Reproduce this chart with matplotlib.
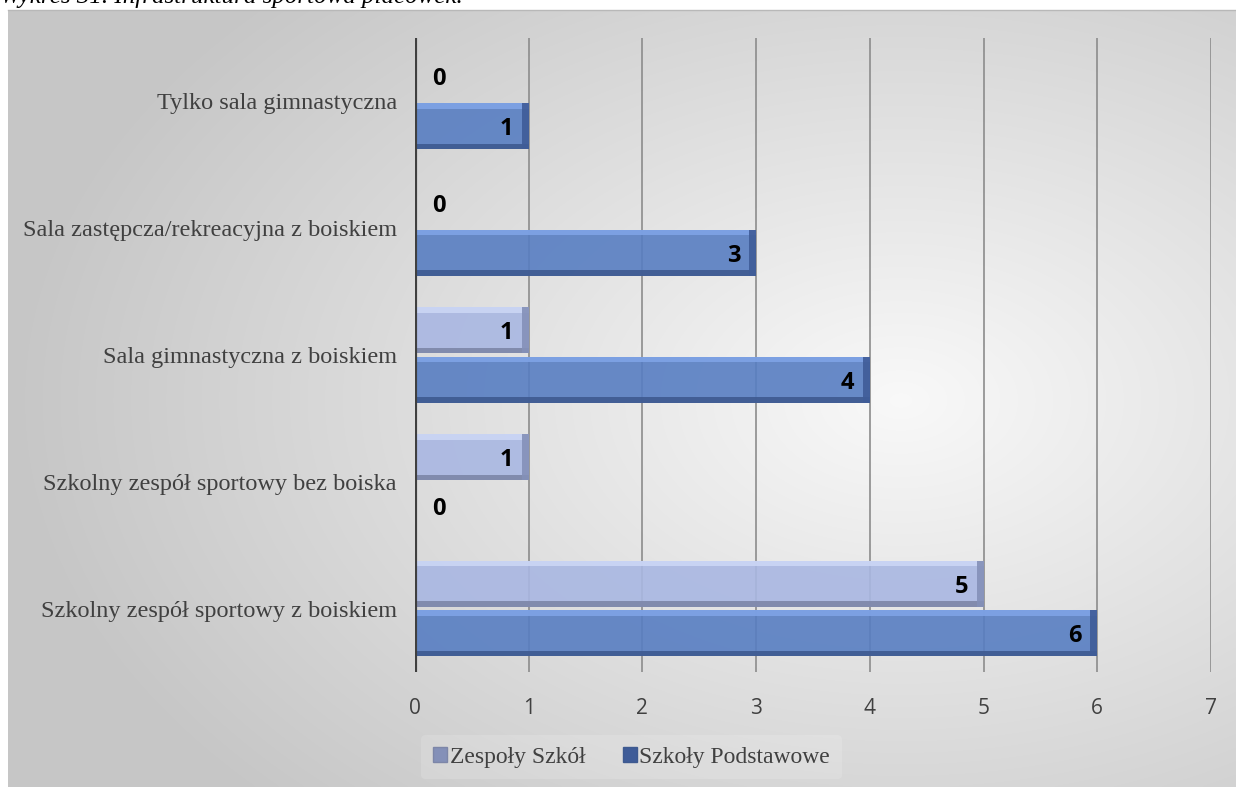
import numpy as np
import matplotlib
matplotlib.use("Agg")
import matplotlib.pyplot as plt
from matplotlib.patches import Patch

categories = ["Szkolny zespół sportowy z boiskiem",
              "Szkolny zespół sportowy bez boiska",
              "Sala gimnastyczna z boiskiem",
              "Sala zastępcza/rekreacyjna z boiskiem",
              "Tylko sala gimnastyczna"]
zespoly = [5, 1, 1, 0, 0]
podstawowe = [6, 0, 4, 3, 1]
series_names = ["Zespoły Szkół", "Szkoły Podstawowe"]
xticks = [0, 1, 2, 3, 4, 5, 6, 7]
title = "Wykres 31. Infrastruktura sportowa placówek."

W, H = 1236, 787
fig = plt.figure(figsize=(W / 100, H / 100), dpi=100)
fig.patch.set_facecolor("white")

# background gradient (chart area)
bg = fig.add_axes([8 / W, 0, 1 - 8 / W, 1 - 10 / H], zorder=-5)
yy, xx = np.mgrid[10:H:2, 8:W:2]
d = np.sqrt(((xx - 900) / 720.0) ** 2 + ((yy - 400) / 470.0) ** 2)
val = np.clip(0.975 - 0.16 * d, 0.78, 1)
bg.imshow(np.dstack([val, val, val]), aspect="auto", extent=[0, 1, 0, 1],
          interpolation="bilinear")
bg.set_axis_off()
fig.add_artist(plt.Line2D([8 / W, 1], [1 - 10 / H, 1 - 10 / H],
                          color="#b8b8b8", lw=1.0, transform=fig.transFigure))

fig.text(0.0, 1 - 3 / H, title, family="Liberation Serif", style="italic",
         fontsize=18, color="black", va="baseline", ha="left")

ax = fig.add_axes([415 / W, 1 - 672 / H, (1211 - 415) / W, (672 - 38) / H])
ax.set_facecolor("none")

y = np.arange(len(categories))
h = 0.365
off = 0.195
styles = [
    dict(main="#a9b7e2", hl="#cbd6f5", sh="#7d86a8", cap="#8490b8"),
    dict(main="#587ec2", hl="#7fa3e6", sh="#3e5a90", cap="#3f5c98"),
]
bv = 0.045
cw = 0.06
for vals, dy, st in [(zespoly, off, styles[0]), (podstawowe, -off, styles[1])]:
    vals = np.array(vals, dtype=float)
    yc = y + dy
    ax.barh(yc, vals, height=h, color=st["main"], alpha=0.9, zorder=3)
    ax.barh(yc + h / 2 - bv / 2, vals, height=bv, color=st["hl"], alpha=0.9, zorder=4)
    ax.barh(yc - h / 2 + bv / 2, vals, height=bv, color=st["sh"], alpha=0.9, zorder=4)
    capw = np.minimum(vals, cw)
    ax.barh(yc, capw, left=vals - capw, height=h, color=st["cap"], alpha=0.9, zorder=4)
    for v, yv in zip(vals, yc):
        if v > 0:
            xt, ha = (-11, "right")
        else:
            xt, ha = (12, "left")
        ax.annotate(f"{int(v)}", (v, yv), xytext=(xt, -2), textcoords="offset points",
                    ha=ha, va="center", fontsize=17, fontweight="bold",
                    family="Open Sans", color="black", zorder=6)

ax.set_xlim(0, 7)
ax.set_ylim(-0.5, len(categories) - 0.5)
ax.set_xticks(xticks)
ax.set_xticklabels([str(t) for t in xticks], family="Open Sans", fontsize=15, color="#404040")
ax.set_yticks(y)
ax.set_yticklabels(categories, family="Liberation Serif", fontsize=17.5, color="#404040")
ax.tick_params(axis="x", length=0, pad=19)
ax.tick_params(axis="y", length=0, pad=13)
for s in ax.spines.values():
    s.set_visible(False)
for t in xticks[1:]:
    ax.axvline(t, color="#8c8c8c", lw=1.2, zorder=1)
ax.axvline(0, color="#404040", lw=3, zorder=7)

handles = [Patch(facecolor=styles[0]["cap"], edgecolor=styles[0]["sh"]),
           Patch(facecolor=styles[1]["cap"], edgecolor=styles[1]["sh"])]
leg = fig.legend(handles, series_names, loc="center", bbox_to_anchor=(0.511, 0.038),
                 ncol=2, frameon=True, prop=dict(family="Liberation Serif", size=17),
                 handlelength=0.6, handleheight=0.6, handletextpad=0.1, columnspacing=1.6,
                 borderpad=0.5)
leg.get_frame().set_facecolor("white")
leg.get_frame().set_alpha(0.15)
leg.get_frame().set_edgecolor("none")
for t in leg.get_texts():
    t.set_color("#404040")

fig.savefig("out.png", dpi=100)
